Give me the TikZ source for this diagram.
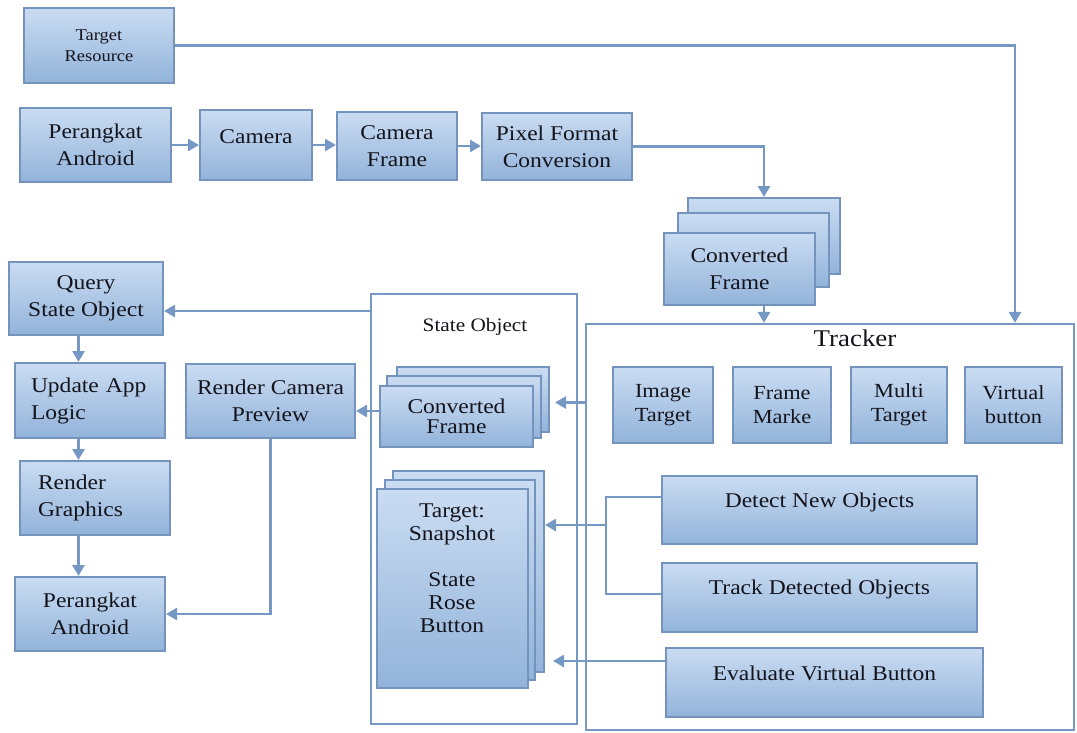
\documentclass[tikz,border=0pt]{standalone}
\usepackage{fontspec}
\setmainfont{Liberation Serif}[FakeStretch=1.12]
\usetikzlibrary{arrows.meta}
\definecolor{lnblue}{RGB}{118,152,197}
\definecolor{bdblue}{RGB}{116,148,190}
\definecolor{topblue}{RGB}{202,220,242}
\definecolor{botblue}{RGB}{146,179,218}
\definecolor{txt}{RGB}{20,20,28}
\tikzset{
  wh/.style 2 args={minimum width=#1, minimum height=#2},
  box/.style={draw=bdblue, line width=2pt, top color=topblue, bottom color=botblue,
    align=center, text=txt, inner sep=2pt, font=\fontsize{21}{27}\selectfont},
  cont/.style={draw=lnblue, line width=2.2pt, fill=white, inner sep=0pt},
  ln/.style={draw=lnblue, line width=2.6pt},
  arr/.style={ln, -{Triangle[width=12pt,length=11pt]}},
  lbl/.style={text=txt, align=center, inner sep=0pt, font=\fontsize{21}{27}\selectfont},
}
\begin{document}
\begin{tikzpicture}[x=1pt,y=-1pt]
\useasboundingbox (0,0) rectangle (1077,732);
% containers
\node[cont, wh={488}{406}] (trk) at (830,527) {};
\node[lbl, font=\fontsize{24}{26}\selectfont] (trkl) at (855,338) {Tracker};
\node[cont, wh={206}{430}] (so) at (474,509) {};
\node[lbl, font=\fontsize{19}{22}\selectfont] (sol) at (475,327) {State Object};
% top rows
\node[box, wh={150}{75}, font=\fontsize{16.5}{21}\selectfont] (tr) at (99,45.5) {Target\\Resource};
\node[box, wh={151}{74}] (pa1) at (95.5,145) {Perangkat\\Android};
\node[box, wh={112}{70}] (cam) at (256,145) {};
\node[lbl] (caml) at (256,137) {Camera};
\node[box, wh={120}{68}] (cfr) at (397,146) {Camera\\Frame};
\node[box, wh={150}{67}] (pfc) at (557,146.5) {Pixel Format\\Conversion};
% converted frame stack (top)
\node[box, wh={152}{76}] (cfb) at (764,236) {};
\node[box, wh={151}{74}] (cfm) at (753.5,250) {};
\node[box, wh={151}{72}] (cff) at (739.5,269) {Converted\\Frame};
% tracker items
\node[box, wh={100}{76}, font=\fontsize{20}{24}\selectfont] (it) at (663,405) {Image\\Target};
\node[box, wh={98}{76}, font=\fontsize{20}{24}\selectfont] (fm) at (782,405) {Frame\\Marke};
\node[box, wh={96}{76}, font=\fontsize{20}{24}\selectfont] (mt) at (899,405) {Multi\\Target};
\node[box, wh={97}{76}, font=\fontsize{20}{24}\selectfont] (vb) at (1013.5,405) {Virtual\\button};
\node[box, wh={315}{68}] (dno) at (819.5,510) {};
\node[lbl] (dnol) at (819.5,502) {Detect New Objects};
\node[box, wh={315}{69}] (tdo) at (819.5,597.5) {};
\node[lbl] (tdol) at (819.5,589) {Track Detected Objects};
\node[box, wh={317}{69}] (evb) at (824.5,682.5) {};
\node[lbl] (evbl) at (824.5,673) {Evaluate Virtual Button};
% state object stacks
\node[box, wh={152}{65}] (sfb) at (473,399.5) {};
\node[box, wh={154}{62}] (sfm) at (464,407) {};
\node[box, wh={153}{61}, font=\fontsize{21}{20}\selectfont] (sff) at (456.5,416.5) {Converted\\Frame};
\node[box, wh={151}{201}] (tgb) at (468.5,571.5) {};
\node[box, wh={150}{200}] (tgm) at (460,580) {};
\node[box, wh={151}{199}] (tgf) at (452.5,588.5) {};
\node[lbl, font=\fontsize{21}{23}\selectfont] (tgl) at (452,568) {Target:\\Snapshot\\[23pt]State\\Rose\\Button};
% left column
\node[box, wh={154}{73}] (qso) at (86,298.5) {Query\\State Object};
\node[box, wh={150}{75}, align=left, text width=118pt, inner xsep=16pt] (ual) at (90,400.5) {Update App\\Logic};
\node[box, wh={150}{74}, align=left, text width=114pt, inner xsep=18pt] (rg) at (95,498) {Render\\Graphics};
\node[box, wh={150}{74}] (pa2) at (90,614) {Perangkat\\Android};
\node[box, wh={169}{74}] (rcp) at (270.5,401) {Render Camera\\Preview};
% connectors
\coordinate (trx) at (1015,0);
\draw[arr] (tr.east) -| (trk.north -| trx);
\draw[arr] (pa1.east) -- (pa1.east -| cam.west);
\draw[arr] (cam.east) -- (cam.east -| cfr.west);
\draw[arr] (cfr.east) -- (cfr.east -| pfc.west);
\draw[arr] (pfc.east) -| (cfb.north);
\draw[arr] (cff.south -| cfb.north) -- (trk.north -| cfb.north);
\coordinate (a1) at ([xshift=5pt,yshift=-3pt]sfb.east);
\draw[arr] (trk.west |- a1) -- (a1);
\coordinate (d1) at ([yshift=13pt]dno.west);
\coordinate (t1) at ([yshift=3.5pt]tdo.west);
\coordinate (bk) at (606,525);
\draw[ln, line width=2pt] (d1) -| (bk) |- (t1);
\draw[ln, line width=2pt] (trk.west |- bk) -- (bk);
\draw[arr] (trk.west |- bk) -- (tgb.east |- bk);
\coordinate (e1) at ([yshift=21.5pt]evb.west);
\coordinate (tgbx) at ([xshift=8pt]tgb.east);
\draw[ln] (trk.west |- e1) -- (e1);
\draw[arr] (trk.west |- e1) -- (tgbx |- e1);
\coordinate (qa) at ([yshift=-12.5pt]qso.east);
\draw[arr] (so.west |- qa) -- (qa);
\coordinate (cx) at (78.5,0);
\draw[arr] (qso.south -| cx) -- (ual.north -| cx);
\draw[arr] (ual.south -| cx) -- (rg.north -| cx);
\draw[arr] (rg.south -| cx) -- (pa2.north -| cx);
\coordinate (ra) at ([yshift=5.5pt]sff.west);
\draw[arr] (ra) -- (rcp.east |- ra);
\draw[arr] (rcp.south) |- (pa2.east);
\end{tikzpicture}
\end{document}
